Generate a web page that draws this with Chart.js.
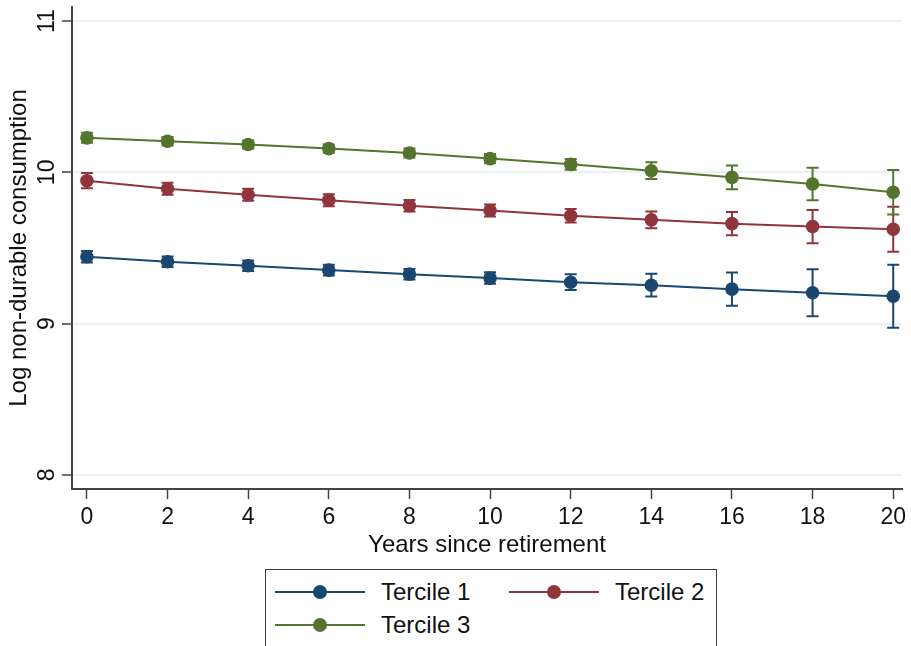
<!DOCTYPE html>
<html>
<head>
<meta charset="utf-8">
<script src="https://cdn.jsdelivr.net/npm/chart.js@4"></script>
<style>
  html, body { margin: 0; padding: 0; background: #fff; overflow: hidden; }
  #wrap { position: relative; width: 911px; height: 646px; }
  #legend { position: absolute; left: 265px; top: 569px; width: 452px; height: 80px;
            border: 1px solid #3a3a3a; box-sizing: border-box; background: #fff;
            font-family: "Liberation Sans", Arial, sans-serif; font-size: 24px; color: #111; }
  .item { position: absolute; height: 30px; }
  .sym { position: absolute; top: 14px; width: 90px; height: 2px; }
  .dot { position: absolute; left: 38px; top: -6px; width: 14px; height: 14px; border-radius: 50%; }
  .lbl { position: absolute; left: 106px; top: 0px; line-height: 30px; white-space: nowrap; }
</style>
</head>
<body>
<div id="wrap">
  <canvas id="c" width="911" height="646"></canvas>
  <div id="legend"></div>
</div>
<script>
// ---- data ----
const years = [0, 2, 4, 6, 8, 10, 12, 14, 16, 18, 20];
const xTicks = [0, 2, 4, 6, 8, 10, 12, 14, 16, 18, 20];
const yTicks = [8, 9, 10, 11];
const seriesNames = ["Tercile 1", "Tercile 2", "Tercile 3"];
const seriesColors = ["#1a476f", "#90353b", "#55752f"];
const tercile1 = [9.442, 9.409, 9.383, 9.354, 9.327, 9.301, 9.274, 9.254, 9.228, 9.204, 9.181];
const tercile2 = [9.945, 9.892, 9.852, 9.816, 9.779, 9.748, 9.713, 9.686, 9.661, 9.642, 9.624];
const tercile3 = [10.228, 10.206, 10.184, 10.157, 10.128, 10.091, 10.053, 10.011, 9.967, 9.923, 9.869];
const err1 = [0.038, 0.035, 0.035, 0.035, 0.035, 0.038, 0.052, 0.075, 0.11, 0.155, 0.208];
const err2 = [0.05, 0.04, 0.04, 0.04, 0.038, 0.04, 0.044, 0.056, 0.077, 0.11, 0.148];
const err3 = [0.033, 0.028, 0.027, 0.027, 0.03, 0.03, 0.035, 0.055, 0.078, 0.108, 0.147];

const values = [tercile1, tercile2, tercile3];
const errors = [err1, err2, err3];
const FONT = '"Liberation Sans", Arial, sans-serif';

const datasets = values.map((vals, i) => ({
  label: seriesNames[i],
  data: years.map((x, j) => ({ x: x, y: vals[j] })),
  errs: errors[i],
  borderColor: seriesColors[i],
  backgroundColor: seriesColors[i],
  pointBackgroundColor: seriesColors[i],
  pointBorderWidth: 0,
  pointRadius: 6.8,
  borderWidth: 2,
  tension: 0,
  clip: false,
  order: 3 - i
}));

const errorBars = {
  id: 'errorBars',
  afterDatasetsDraw(chart) {
    const ctx = chart.ctx;
    const xs = chart.scales.x, ys = chart.scales.y;
    chart.data.datasets.forEach((ds) => {
      ctx.save();
      ctx.strokeStyle = ds.borderColor;
      ctx.lineWidth = 2;
      ds.data.forEach((p, j) => {
        const e = ds.errs[j];
        const px = xs.getPixelForValue(p.x);
        const y1 = ys.getPixelForValue(p.y + e);
        const y2 = ys.getPixelForValue(p.y - e);
        ctx.beginPath();
        ctx.moveTo(px, y1); ctx.lineTo(px, y2);
        ctx.moveTo(px - 6, y1); ctx.lineTo(px + 6, y1);
        ctx.moveTo(px - 6, y2); ctx.lineTo(px + 6, y2);
        ctx.stroke();
      });
      ctx.restore();
    });
  }
};

const yLabels = {
  id: 'yLabels',
  afterDraw(chart) {
    const ctx = chart.ctx;
    const ys = chart.scales.y;
    ctx.save();
    ctx.fillStyle = '#111';
    ctx.font = '23px ' + FONT;
    ctx.textAlign = 'center';
    ctx.textBaseline = 'middle';
    yTicks.forEach(v => {
      const py = ys.getPixelForValue(v);
      ctx.save();
      ctx.translate(48, py);
      ctx.rotate(-Math.PI / 2);
      ctx.fillText(String(v), 0, 0);
      ctx.restore();
    });
    ctx.restore();
  }
};

new Chart(document.getElementById('c'), {
  type: 'line',
  data: { datasets: datasets },
  plugins: [errorBars, yLabels],
  options: {
    responsive: false,
    animation: false,
    devicePixelRatio: 1,
    layout: { autoPadding: false, padding: { top: 7, right: 0, left: 0, bottom: 86 } },
    plugins: { legend: { display: false }, tooltip: { enabled: false } },
    scales: {
      x: {
        type: 'linear',
        min: -0.37,
        max: 20.22,
        afterBuildTicks: (s) => { s.ticks = xTicks.map(v => ({ value: v })); },
        afterFit: (s) => { s.height = 71; },
        grid: { drawOnChartArea: false, drawTicks: true, tickLength: 10, tickColor: '#444', tickWidth: 1.5 },
        border: { display: true, color: '#444', width: 2 },
        ticks: { color: '#111', font: { family: FONT, size: 23 }, padding: 5, maxRotation: 0, autoSkip: false },
        title: { display: true, text: 'Years since retirement', color: '#111',
                 font: { family: FONT, size: 24 }, padding: { top: 0, bottom: 0 } }
      },
      y: {
        type: 'linear',
        min: 7.907,
        max: 11.093,
        afterBuildTicks: (s) => { s.ticks = yTicks.map(v => ({ value: v })); },
        afterFit: (s) => { s.width = 72; },
        grid: { color: '#eaf1f3', lineWidth: 2, drawTicks: true, tickLength: 10, tickColor: '#444', tickWidth: 1.5 },
        border: { display: true, color: '#444', width: 2 },
        ticks: { display: false },
        title: { display: true, text: 'Log non-durable consumption', color: '#111',
                 font: { family: FONT, size: 24 }, padding: { top: 5, bottom: 0 } }
      }
    }
  }
});

// ---- legend (HTML, built from the series arrays) ----
const legendPos = [{ left: 9, top: 7 }, { left: 243, top: 7 }, { left: 9, top: 40 }];
const leg = document.getElementById('legend');
seriesNames.forEach((name, i) => {
  const it = document.createElement('div');
  it.className = 'item';
  it.style.left = legendPos[i].left + 'px';
  it.style.top = legendPos[i].top + 'px';
  const sym = document.createElement('div');
  sym.className = 'sym';
  sym.style.background = seriesColors[i];
  const dot = document.createElement('div');
  dot.className = 'dot';
  dot.style.background = seriesColors[i];
  sym.appendChild(dot);
  const lbl = document.createElement('div');
  lbl.className = 'lbl';
  lbl.textContent = name;
  it.appendChild(sym);
  it.appendChild(lbl);
  leg.appendChild(it);
});
</script>
</body>
</html>
